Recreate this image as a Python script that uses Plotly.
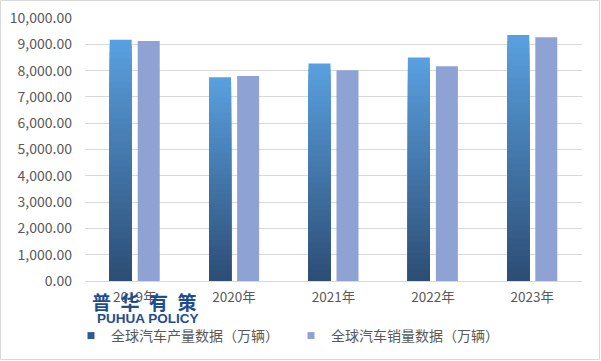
import plotly.graph_objects as go

years = ["2019年", "2020年", "2021年", "2022年", "2023年"]
production = [9170, 7750, 8268, 8502, 9355]
sales = [9130, 7790, 8015, 8163, 9272]
name_prod = "全球汽车产量数据（万辆）"
name_sales = "全球汽车销量数据（万辆）"
y_ticks = list(range(0, 10001, 1000))

W, H = 601, 361
ML, MR, MT, MB = 85, 19, 18, 80
FONT = "Noto Sans CJK SC, Noto Sans, sans-serif"
GREY = "#595959"

def lerp(c1, c2, t):
    a = [int(c1[i:i + 2], 16) for i in (1, 3, 5)]
    b = [int(c2[i:i + 2], 16) for i in (1, 3, 5)]
    return "#" + "".join(f"{round(a[k] + (b[k] - a[k]) * t):02x}" for k in range(3))

BOTTOM, TOP = "#2c4d74", "#5aa0e0"
N = 40
cat_px = (W - ML - MR) / len(years)
bar_w = 22 / cat_px

fig = go.Figure()
# production bars with a vertical gradient: overlaid bars, tallest (lightest) first
for k in range(N):
    frac = (N - k) / N
    fig.add_trace(go.Bar(
        x=years,
        y=[v * frac for v in production],
        width=bar_w, offset=-25 / cat_px,
        marker=dict(color=lerp(BOTTOM, TOP, frac - 0.5 / N), line=dict(width=0)),
        showlegend=False, hoverinfo="skip",
    ))
fig.add_trace(go.Bar(
    x=years, y=sales, width=bar_w, offset=3 / cat_px,
    marker=dict(color="#8fa2d4", line=dict(width=0)),
    showlegend=False, name=name_sales,
))
# legend entries
fig.add_trace(go.Scatter(x=[None], y=[None], mode="markers", name=name_prod,
                         marker=dict(symbol="square", size=7, color="#2f5b8c")))
fig.add_trace(go.Scatter(x=[None], y=[None], mode="markers", name=name_sales,
                         marker=dict(symbol="square", size=7, color="#8fa2d4")))

pw = W - ML - MR
ph = H - MT - MB
fig.update_layout(
    width=W, height=H,
    margin=dict(l=ML, r=MR, t=MT, b=MB, autoexpand=False),
    paper_bgcolor="white", plot_bgcolor="white",
    barmode="overlay",
    font=dict(family=FONT, size=13, color=GREY),
    xaxis=dict(type="category", showgrid=False, showline=True, linecolor="#d9d9d9",
               ticks="", tickfont=dict(size=13.5, color=GREY), ticklabelstandoff=4),
    yaxis=dict(range=[0, 10000], tickvals=y_ticks, tickformat=",.2f",
               showgrid=True, gridcolor="#d9d9d9", gridwidth=1, zeroline=False,
               ticks="", tickfont=dict(size=14, color=GREY), ticklabelstandoff=12),
    legend=dict(orientation="h", x=(71 - ML) / pw, xanchor="left",
                y=-(336 - MT - ph) / ph, yanchor="middle",
                font=dict(size=14, color=GREY), itemwidth=30,
                entrywidth=175, bgcolor="rgba(0,0,0,0)"),
    showlegend=True,
    shapes=[dict(type="rect", xref="paper", yref="paper",
                 x0=-(ML - 0.5) / pw, x1=1 + (MR - 1.5) / pw,
                 y0=-(MB - 1.5) / ph, y1=1 + (MT - 0.5) / ph,
                 line=dict(color="#d9d9d9", width=1))],
    annotations=[
        dict(text="<b>普\u2002华\u2002有\u2002策</b>", xref="paper", yref="paper",
             x=(144 - ML) / pw, y=-(301 - MT - ph) / ph, showarrow=False,
             xanchor="center", yanchor="middle",
             font=dict(size=19, color="#1f4e8f", family=FONT)),
        dict(text="<b>PUHUA POLICY</b>", xref="paper", yref="paper",
             x=(148 - ML) / pw, y=-(318 - MT - ph) / ph, showarrow=False,
             xanchor="center", yanchor="middle",
             font=dict(size=13.5, color="#1f4e8f", family="Liberation Sans, Arial")),
    ],
)

fig.write_html("out.html", config={"displayModeBar": False},
               post_script="document.body.style.margin='0';")
